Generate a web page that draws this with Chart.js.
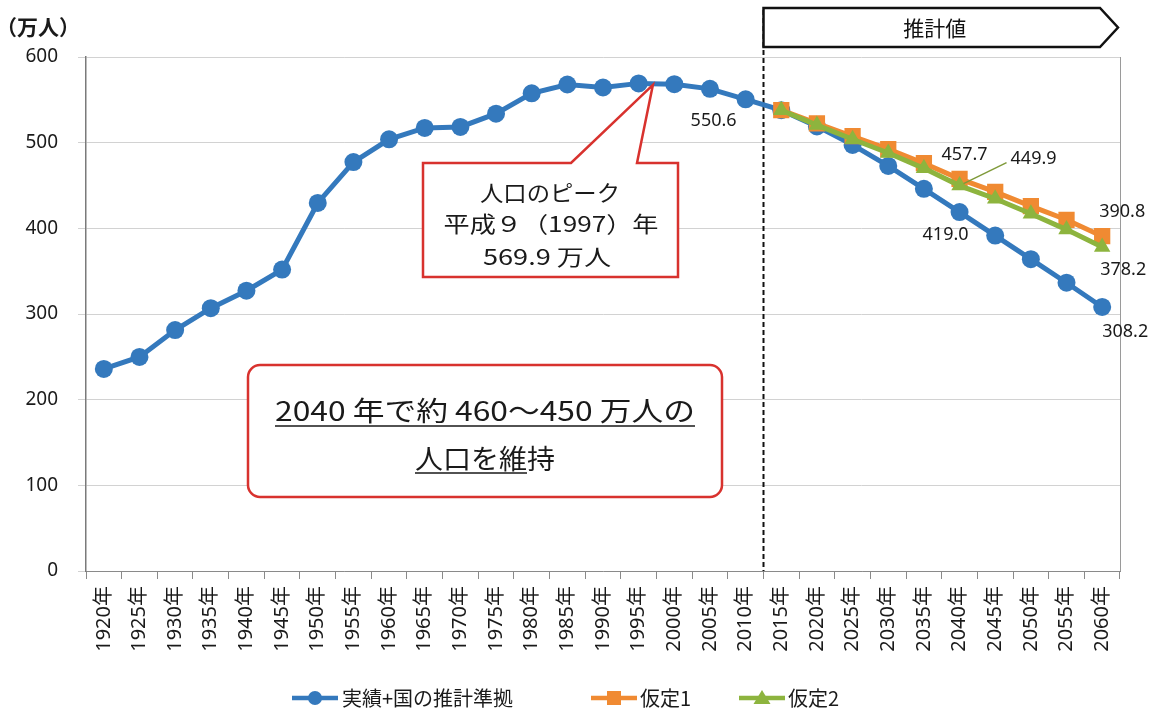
<!DOCTYPE html>
<html lang="ja">
<head>
<meta charset="utf-8">
<title>北海道の人口推移と将来推計</title>
<script src="https://cdn.jsdelivr.net/npm/chart.js@4.4.1/dist/chart.umd.min.js"></script>
<style>
  html, body { margin: 0; padding: 0; background: #ffffff; }
  #wrap { width: 1160px; height: 712px; position: relative; }
</style>
</head>
<body>
<div id="wrap"><canvas id="c" width="1160" height="712"></canvas></div>
<script>
// ---- data (万人) ----
const years = ['1920年','1925年','1930年','1935年','1940年','1945年','1950年','1955年','1960年','1965年',
               '1970年','1975年','1980年','1985年','1990年','1995年','2000年','2005年','2010年','2015年',
               '2020年','2025年','2030年','2035年','2040年','2045年','2050年','2055年','2060年'];
const actualAndNational = [235.9, 249.9, 281.2, 306.8, 327.2, 351.8, 429.6, 477.3, 503.9, 517.2,
                           518.4, 533.8, 557.6, 567.9, 564.4, 569.2, 568.3, 562.8, 550.6, 537.9,
                           519.0, 497.4, 472.8, 446.1, 419.0, 391.5, 364.0, 336.5, 308.2];
const assumption1 = [null, null, null, null, null, null, null, null, null, null,
                     null, null, null, null, null, null, null, null, null, 537.9,
                     522.5, 507.5, 492.5, 476.0, 457.7, 442.5, 426.0, 410.0, 390.8];
const assumption2 = [null, null, null, null, null, null, null, null, null, null,
                     null, null, null, null, null, null, null, null, null, 537.9,
                     520.5, 504.0, 488.0, 470.0, 449.9, 434.5, 417.0, 398.5, 378.2];
const seriesNames = ['実績+国の推計準拠', '仮定1', '仮定2'];
const yTickValues = [0, 100, 200, 300, 400, 500, 600];
const peakYearIndex = 15.4;   // 1997年 (1995年と2000年の間)
const peakValue = 569.9;

const BLUE = '#3479bd';
const ORANGE = '#f08a32';
const GREEN = '#8db43e';
const RED = '#d8322e';
const LATIN = '"Noto Sans", "Noto Sans CJK JP", sans-serif';
const CJK = '"Noto Sans CJK JP", sans-serif';

// value labels: dataset, index, offset of the label centre from the point
const valueLabels = [
  { ds: 0, i: 18, dx: -32, dy: 22 },
  { ds: 0, i: 24, dx: -14, dy: 23 },
  { ds: 0, i: 28, dx: 23,  dy: 25 },
  { ds: 1, i: 24, dx: 5,   dy: -24 },
  { ds: 2, i: 24, dx: 74,  dy: -27, leader: true },
  { ds: 1, i: 28, dx: 20,  dy: -24 },
  { ds: 2, i: 28, dx: 21,  dy: 23 }
];

// Plot frame: right border line
const framePlugin = {
  id: 'frame',
  beforeDatasetsDraw(chart) {
    const { ctx, chartArea: a } = chart;
    ctx.save();
    ctx.strokeStyle = '#9a9a9a';
    ctx.lineWidth = 1;
    ctx.beginPath();
    ctx.moveTo(a.right + 0.5, a.top);
    ctx.lineTo(a.right + 0.5, a.bottom);
    ctx.stroke();
    ctx.restore();
  }
};

// Boundary between census results and projections, with the 推計値 banner
const projectionPlugin = {
  id: 'projection',
  beforeDatasetsDraw(chart) {
    const { ctx, chartArea: a, scales: { x } } = chart;
    const bx = Math.round((x.getPixelForValue(18) + x.getPixelForValue(19)) / 2) + 0.5;
    ctx.save();
    ctx.strokeStyle = '#111';
    ctx.lineWidth = 2;
    ctx.setLineDash([5, 3]);
    ctx.beginPath();
    ctx.moveTo(bx, 10);
    ctx.lineTo(bx, a.bottom);
    ctx.stroke();
    ctx.setLineDash([]);
    // banner arrow
    const top = 8, bot = 47, mid = (top + bot) / 2;
    const endX = a.right - 20, tipX = a.right - 2;
    ctx.fillStyle = '#fff';
    ctx.lineWidth = 2.5;
    ctx.beginPath();
    ctx.moveTo(bx, top);
    ctx.lineTo(endX, top);
    ctx.lineTo(tipX, mid);
    ctx.lineTo(endX, bot);
    ctx.lineTo(bx, bot);
    ctx.closePath();
    ctx.fill();
    ctx.stroke();
    ctx.fillStyle = '#111';
    ctx.font = '21px ' + CJK;
    ctx.textAlign = 'center';
    ctx.textBaseline = 'middle';
    ctx.fillText('推計値', (bx + endX) / 2 + 3, mid + 1);
    ctx.restore();
  }
};

function fittedText(ctx, text, cx, cy, width) {
  const w = ctx.measureText(text).width;
  ctx.save();
  ctx.translate(cx, cy);
  ctx.scale(width / w, 1);
  ctx.fillText(text, 0, 0);
  ctx.restore();
}

// Callouts: population peak, and the 2040 message box
const calloutPlugin = {
  id: 'callouts',
  afterDatasetsDraw(chart) {
    const { ctx, scales: { x, y } } = chart;
    ctx.save();
    // peak callout
    const tipX = x.getPixelForValue(15) + (x.getPixelForValue(16) - x.getPixelForValue(15)) * (peakYearIndex - 15);
    const tipY = y.getPixelForValue(peakValue) + 2;
    const L = 423, R = 678, T = 163, B = 277;
    ctx.beginPath();
    ctx.moveTo(L, T);
    ctx.lineTo(571, T);
    ctx.lineTo(tipX, tipY);
    ctx.lineTo(637, T);
    ctx.lineTo(R, T);
    ctx.lineTo(R, B);
    ctx.lineTo(L, B);
    ctx.closePath();
    ctx.fillStyle = '#fff';
    ctx.fill();
    ctx.strokeStyle = RED;
    ctx.lineWidth = 2.5;
    ctx.lineJoin = 'miter';
    ctx.stroke();
    ctx.fillStyle = '#1a1a1a';
    ctx.textAlign = 'center';
    ctx.textBaseline = 'middle';
    ctx.font = '22px ' + CJK;
    fittedText(ctx, '人口のピーク', 550, 193, 140);
    fittedText(ctx, '平成９（1997）年', 551, 224, 215);
    fittedText(ctx, '569.9 万人', 547, 257, 128);

    // message box
    const l2 = 248, r2 = 722, t2 = 365, b2 = 497, rad = 12;
    ctx.beginPath();
    ctx.roundRect(l2, t2, r2 - l2, b2 - t2, rad);
    ctx.fillStyle = '#fff';
    ctx.fill();
    ctx.strokeStyle = RED;
    ctx.lineWidth = 2.5;
    ctx.stroke();
    ctx.fillStyle = '#1a1a1a';
    ctx.font = '27px ' + CJK;
    fittedText(ctx, '2040 年で約 460～450 万人の', 485, 411, 420);
    fittedText(ctx, '人口を維持', 485, 459, 140);
    ctx.strokeStyle = '#1a1a1a';
    ctx.lineWidth = 1.5;
    ctx.beginPath();
    ctx.moveTo(275, 426); ctx.lineTo(695, 426);
    ctx.moveTo(415, 473); ctx.lineTo(527, 473);
    ctx.stroke();
    ctx.restore();
  }
};

// Value labels next to selected points
const valueLabelPlugin = {
  id: 'valueLabels',
  afterDatasetsDraw(chart) {
    const { ctx } = chart;
    ctx.save();
    ctx.font = '18px ' + LATIN;
    ctx.fillStyle = '#1a1a1a';
    ctx.textAlign = 'center';
    ctx.textBaseline = 'middle';
    valueLabels.forEach(lb => {
      const pt = chart.getDatasetMeta(lb.ds).data[lb.i];
      const v = chart.data.datasets[lb.ds].data[lb.i];
      const text = v.toFixed(1);
      const cx = pt.x + lb.dx, cy = pt.y + lb.dy;
      if (lb.leader) {
        const w = ctx.measureText(text).width;
        ctx.save();
        ctx.strokeStyle = '#7f9a3a';
        ctx.lineWidth = 1.5;
        ctx.beginPath();
        ctx.moveTo(pt.x + 4, pt.y - 2);
        ctx.lineTo(cx - w / 2 - 4, cy + 4);
        ctx.stroke();
        ctx.restore();
      }
      ctx.fillText(text, cx, cy);
    });
    ctx.restore();
  }
};

// Legend with line + marker samples
const legendPlugin = {
  id: 'lineLegend',
  afterDraw(chart) {
    const { ctx } = chart;
    const y = 698;
    const items = [
      { x: 292, tx: 342 },
      { x: 591, tx: 640 },
      { x: 739, tx: 788 }
    ];
    ctx.save();
    ctx.font = '20px ' + CJK;
    ctx.textBaseline = 'middle';
    ctx.textAlign = 'left';
    chart.data.datasets.forEach((ds, k) => {
      const it = items[k];
      const len = 46, cx = it.x + len / 2;
      ctx.strokeStyle = ds.borderColor;
      ctx.lineWidth = 4.5;
      ctx.beginPath();
      ctx.moveTo(it.x, y);
      ctx.lineTo(it.x + len, y);
      ctx.stroke();
      ctx.fillStyle = ds.pointBackgroundColor;
      ctx.beginPath();
      if (ds.pointStyle === 'circle') {
        ctx.arc(cx, y, 7, 0, Math.PI * 2);
      } else if (ds.pointStyle === 'rect') {
        ctx.rect(cx - 7, y - 7, 14, 14);
      } else {
        ctx.moveTo(cx, y - 8);
        ctx.lineTo(cx + 8.5, y + 6);
        ctx.lineTo(cx - 8.5, y + 6);
        ctx.closePath();
      }
      ctx.fill();
      ctx.fillStyle = '#1a1a1a';
      ctx.fillText(ds.label, it.tx, y);
    });
    ctx.restore();
  }
};

// Y-axis unit
const unitPlugin = {
  id: 'unit',
  afterDraw(chart) {
    const { ctx } = chart;
    ctx.save();
    ctx.font = 'bold 21px ' + CJK;
    ctx.fillStyle = '#1a1a1a';
    ctx.textBaseline = 'middle';
    ctx.textAlign = 'left';
    ctx.fillText('（万人）', -4, 27);
    ctx.restore();
  }
};

new Chart(document.getElementById('c'), {
  type: 'line',
  data: {
    labels: years,
    datasets: [
      {
        label: seriesNames[0], data: actualAndNational, order: 3,
        borderColor: BLUE, backgroundColor: BLUE, pointBackgroundColor: BLUE, pointBorderColor: BLUE,
        borderWidth: 5, pointStyle: 'circle', pointRadius: 9, pointBorderWidth: 0, tension: 0
      },
      {
        label: seriesNames[1], data: assumption1, order: 2,
        borderColor: ORANGE, backgroundColor: ORANGE, pointBackgroundColor: ORANGE, pointBorderColor: ORANGE,
        borderWidth: 5, pointStyle: 'rect', pointRadius: 11.5, pointBorderWidth: 0, tension: 0
      },
      {
        label: seriesNames[2], data: assumption2, order: 1,
        borderColor: GREEN, backgroundColor: GREEN, pointBackgroundColor: GREEN, pointBorderColor: GREEN,
        borderWidth: 5, pointStyle: 'triangle', pointRadius: 9.5, pointBorderWidth: 0, tension: 0
      }
    ]
  },
  options: {
    responsive: false,
    animation: false,
    devicePixelRatio: 1,
    layout: { padding: { left: 0, right: 40, top: 57, bottom: 0 } },
    plugins: {
      legend: { display: false },
      tooltip: { enabled: false }
    },
    scales: {
      x: {
        type: 'category',
        offset: true,
        grid: { offset: true, drawOnChartArea: false, drawTicks: true, tickLength: 8, color: '#8a8a8a' },
        border: { display: true, color: '#8a8a8a', width: 1 },
        ticks: {
          autoSkip: false, minRotation: 90, maxRotation: 90, padding: 7,
          color: '#1a1a1a', font: { family: LATIN, size: 20 }
        },
        afterFit(scale) { scale.height = 141; }
      },
      y: {
        min: 0, max: 600,
        afterBuildTicks(scale) { scale.ticks = yTickValues.map(v => ({ value: v })); },
        grid: { color: '#d2d2d2', lineWidth: 1, tickLength: 8, drawTicks: true },
        border: { display: true, color: '#7a7a7a', width: 1.5 },
        ticks: { padding: 20, color: '#1a1a1a', font: { family: LATIN, size: 19 } },
        afterFit(scale) { scale.width = 86; }
      }
    }
  },
  plugins: [framePlugin, projectionPlugin, calloutPlugin, valueLabelPlugin, legendPlugin, unitPlugin]
});
</script>
</body>
</html>
